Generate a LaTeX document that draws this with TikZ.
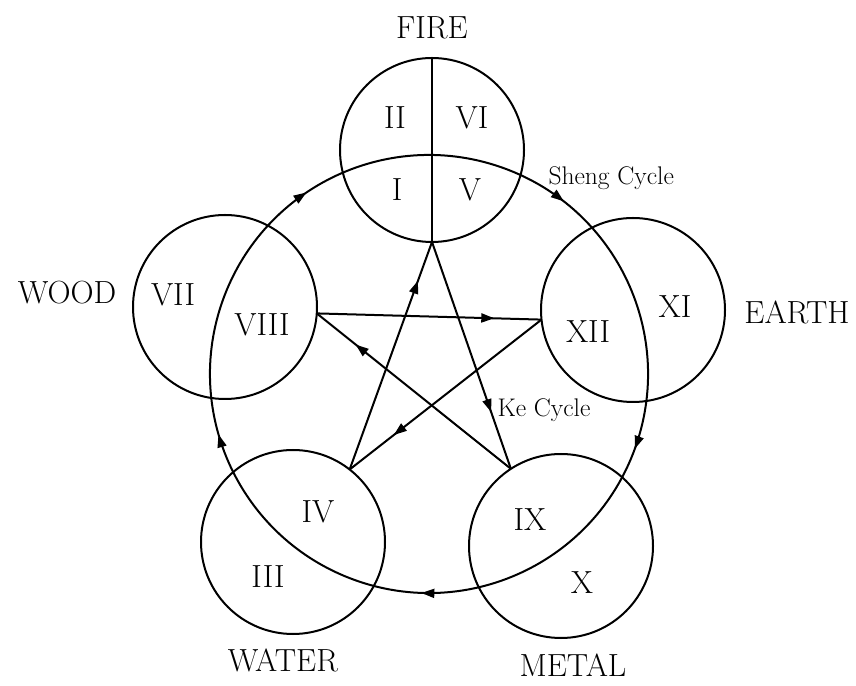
\documentclass[tikz,border=0pt]{standalone}
\usepackage{tikz}
\usetikzlibrary{arrows.meta, decorations.markings}

\begin{document}
\begin{tikzpicture}[
            x=1pt, y=1pt,
            element/.style={circle, draw, line width=2pt, minimum size=184pt,
                            inner sep=0pt, outer sep=0pt},
            phase/.style={font=\fontsize{32}{38}\selectfont},
            cyclename/.style={font=\fontsize{25.5}{30}\selectfont, anchor=west},
            ke/.style={line width=2pt, postaction={decorate},
                       decoration={markings, mark=at position #1 with
                           {\arrow{Triangle[length=13pt,width=9pt]}}}},
            sheng/.style={line width=2pt, postaction={decorate},
                          decoration={markings,
                              mark=between positions 0.1 and 0.95 step 0.2 with
                              {\arrow{Triangle[length=13pt,width=9pt]}}}}
        ]
            \useasboundingbox (0,0) rectangle (856,685);

            \coordinate (hub) at (429,311);
            \node[element] (fire)  at (432,535) {};
            \node[element] (wood)  at (225,378) {};
            \node[element] (earth) at (633,375) {};
            \node[element] (water) at (293,143) {};
            \node[element] (metal) at (561,139) {};

            \draw[line width=1.2pt] (fire.north) -- (fire.south);

            % sheng cycle
            \draw[sheng] ([shift={(160:219)}]hub)
                arc[start angle=160, end angle=-200, radius=219];

            % ke cycle
            \draw[ke=0.75] (fire.south) -- (metal.123);
            \draw[ke=0.8]  (metal.123) -- (wood.-4);
            \draw[ke=0.79] (wood.-4) -- (earth.186);
            \draw[ke=0.77] (earth.186) -- (water.52);
            \draw[ke=0.83] (water.52) -- (fire.south);

            \node[phase] (firename)  at (432,657) {FIRE};
            \node[phase] (woodname)  at (67,392)  {WOOD};
            \node[phase] (earthname) at (797,373) {EARTH};
            \node[phase] (watername) at (283,25)  {WATER};
            \node[phase] (metalname) at (573,20)  {METAL};

            \node[phase] (p2)  at (395,567) {II};
            \node[phase] (p6)  at (472,567) {VI};
            \node[phase] (p1)  at (397,495) {I};
            \node[phase] (p5)  at (470,495) {V};
            \node[phase] (p7)  at (173,390) {VII};
            \node[phase] (p8)  at (262,360) {VIII};
            \node[phase] (p12) at (588,353) {XII};
            \node[phase] (p11) at (675,378) {XI};
            \node[phase] (p4)  at (318,173) {IV};
            \node[phase] (p3)  at (268,108) {III};
            \node[phase] (p9)  at (530,165) {IX};
            \node[phase] (p10) at (582,102) {X};

            \node[cyclename] (shengname) at (545,507) {Sheng Cycle};
            \node[cyclename] (kename)    at (494,275) {Ke Cycle};
        \end{tikzpicture}
\end{document}
